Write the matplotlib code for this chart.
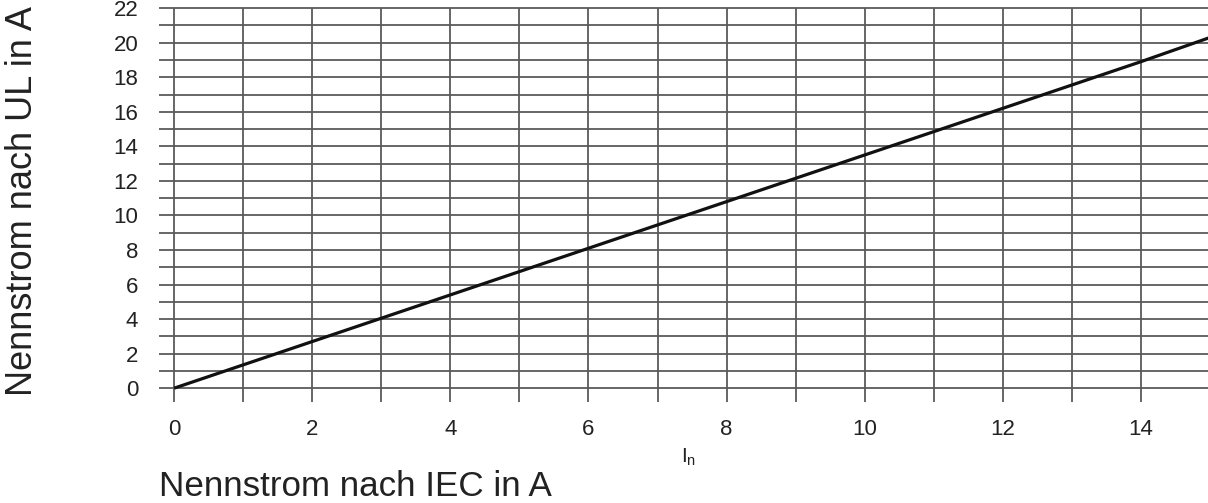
import numpy as np
import matplotlib.pyplot as plt

plt.rcParams['font.family'] = ['Liberation Sans', 'DejaVu Sans']

# values
iec = [0, 2, 4, 6, 8, 10, 12, 14, 15]
ul = [0, 2.7, 5.4, 8.1, 10.8, 13.5, 16.2, 18.9, 20.3]
x_ticks = [0, 2, 4, 6, 8, 10, 12, 14]
y_ticks = [0, 2, 4, 6, 8, 10, 12, 14, 16, 18, 20, 22]

fig = plt.figure(figsize=(12.08, 5.03), dpi=100)
ax = fig.add_axes([0.1316, 0.2008, 0.870, 0.783])
ax.set_xlim(-0.22, 15)
ax.set_ylim(-0.8, 22)

grid_col = '#5a5a5a'
ax.hlines(np.arange(0, 23), -0.22, 15, colors=grid_col, lw=1.3, clip_on=False)
ax.vlines(np.arange(0, 16), -0.8, 22, colors=grid_col, lw=1.3, clip_on=False)

ax.plot(iec, ul, color='#111111', lw=2.3, solid_capstyle='butt', clip_on=False)

for s in ax.spines.values():
    s.set_visible(False)
ax.set_xticks(x_ticks)
ax.set_yticks(y_ticks)
ax.set_xticklabels([str(v) for v in x_ticks])
ax.set_yticklabels([str(v) for v in y_ticks])
ax.tick_params(axis='both', length=0, labelsize=16, colors='#222222')
ax.tick_params(axis='x', pad=12)
ax.tick_params(axis='y', pad=15)

ax.text(7.45, -4.0, r'$\mathregular{I_n}$', fontsize=15, ha='center', va='center', color='#222222')

fig.text(0.019, 0.60, 'Nennstrom nach UL in A', rotation=90, fontsize=26,
         ha='center', va='center', color='#222222')
fig.text(0.132, 0.032, 'Nennstrom nach IEC in A', fontsize=25.2,
         ha='left', va='center', color='#222222')

fig.savefig('out.png', dpi=100)
